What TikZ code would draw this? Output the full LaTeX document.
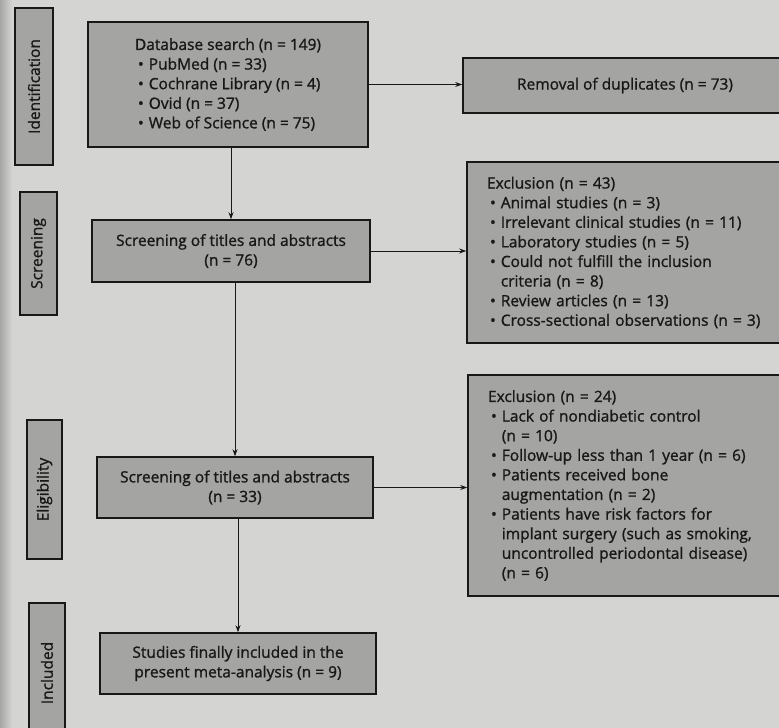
\documentclass[tikz,border=0pt]{standalone}
\usepackage{fontspec}
\setmainfont{Open Sans}[UprightFeatures={FakeBold=1.2}]
\usetikzlibrary{arrows.meta}
\definecolor{pagebg}{RGB}{212,212,210}
\definecolor{boxfill}{RGB}{164,164,162}
\definecolor{ink}{RGB}{24,24,24}
\newcommand{\bul}{\hspace*{3pt}\textbullet\hspace{5pt}}
\newcommand{\cnt}{\hspace*{3pt}\hphantom{\textbullet}\hspace{5pt}}
\begin{document}
\begin{tikzpicture}[x=1pt,y=-1pt,
  font=\fontsize{15.5}{19.6}\selectfont,
  box/.style={draw=ink, line width=1.6pt, fill=boxfill, text=ink, inner sep=0pt},
  lab/.style={box, rotate=90},
  arr/.style={draw=ink, line width=0.8pt, -{Stealth[length=7pt,width=5pt]}}]
\useasboundingbox (0,0) rectangle (779,728);
\clip (0,0) rectangle (779,728);
\fill[pagebg] (0,0) rectangle (779,728);
\shade[left color=black!35, right color=pagebg] (0,0) rectangle (12,728);

% phase labels
\node[lab, minimum width=157pt, minimum height=38pt] (l1) at (34,86.5) {Identification};
\node[lab, minimum width=123pt, minimum height=37pt] (l2) at (38.5,253.5) {Screening};
\node[lab, minimum width=139pt, minimum height=35pt] (l3) at (44.5,489.5) {Eligibility};
\node[lab, minimum width=140pt, minimum height=36pt] (l4) at (47,673) {Included};

% main column
\node[box, minimum width=280pt, minimum height=125pt, align=left] (db) at (228,84.5)
  {Database search (n = 149)\\\bul PubMed (n = 33)\\\bul Cochrane Library (n = 4)\\\bul Ovid (n = 37)\\\bul Web of Science (n = 75)};
\node[box, minimum width=278pt, minimum height=62pt, align=center] (scr) at (231,251)
  {Screening of titles and abstracts\\(n = 76)};
\node[box, minimum width=276pt, minimum height=61pt, align=center] (elg) at (235,487.5)
  {Screening of titles and abstracts\\(n = 33)};
\node[box, minimum width=276pt, minimum height=61pt, align=center] (inc) at (238,663.5)
  {Studies finally included in the\\present meta-analysis (n = 9)};

% right column
\node[box, minimum width=324pt, minimum height=55pt, align=center] (rem) at (625,85.5)
  {Removal of duplicates (n = 73)};
\node[box, minimum width=323pt, minimum height=181pt, text width=283pt, inner xsep=20pt, align=left] (ex1) at (628.5,252.5)
  {Exclusion (n = 43)\\\bul Animal studies (n = 3)\\\bul Irrelevant clinical studies (n = 11)\\\bul Laboratory studies (n = 5)\\\bul Could not fulfill the inclusion\\\cnt criteria (n = 8)\\\bul Review articles (n = 13)\\\bul Cross-sectional observations (n = 3)};
\node[box, minimum width=322pt, minimum height=221pt, text width=282pt, inner xsep=20pt, align=left] (ex2) at (629,485.5)
  {Exclusion (n = 24)\\\bul Lack of nondiabetic control\\\cnt (n = 10)\\\bul Follow-up less than 1 year (n = 6)\\\bul Patients received bone\\\cnt augmentation (n = 2)\\\bul Patients have risk factors for\\\cnt implant surgery (such as smoking,\\\cnt uncontrolled periodontal disease)\\\cnt (n = 6)};

% connectors
\draw[arr] (scr.north |- db.south) -- (scr.north);
\draw[arr] (elg.north |- scr.south) -- (elg.north);
\draw[arr] (inc.north |- elg.south) -- (inc.north);
\draw[arr] (db.east) -- (db.east -| rem.west);
\draw[arr] (scr.east) -- (scr.east -| ex1.west);
\draw[arr] (elg.east) -- (elg.east -| ex2.west);
\end{tikzpicture}
\end{document}
